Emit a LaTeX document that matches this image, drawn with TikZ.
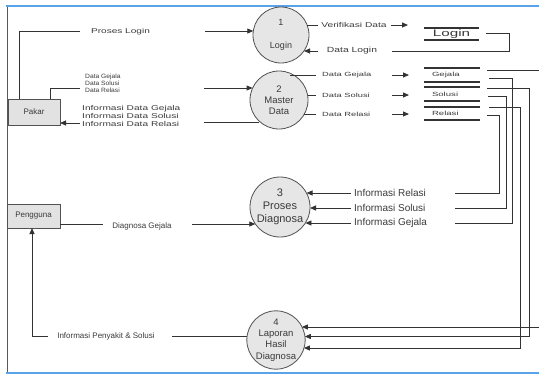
\documentclass[tikz,border=0pt]{standalone}
\usepackage{fontspec}
\setmainfont{Liberation Sans}
\usepackage{graphicx}
\usetikzlibrary{arrows.meta}
\definecolor{ln}{HTML}{333333}
\definecolor{tx}{HTML}{3A3A3A}
\definecolor{cfill}{HTML}{E6E6E6}
\definecolor{bfill}{HTML}{E2E2E2}
\definecolor{frameblue}{HTML}{5BA3E8}
\newcommand{\fs}[2]{\fontsize{#1}{#2}\selectfont}
\newcommand{\hsx}[2]{\scalebox{#1}[1]{#2}}
\begin{document}
\begin{tikzpicture}[x=1pt,y=-1pt,
  proc/.style={circle, draw=ln!85, fill=cfill, line width=0.8pt, inner sep=0pt, outer sep=0pt, align=center, text=tx},
  ent/.style={rectangle, draw=ln!85, fill=bfill, line width=1pt, inner sep=0pt, outer sep=0pt, text=tx},
  lbl/.style={text=tx, inner sep=0pt},
  flow/.style={draw=ln, line width=0.8pt},
  arr/.style={flow, -{Triangle[length=6pt,width=5pt]}},
  sline/.style={draw=ln, line width=1.3pt},
  storebox/.style={inner sep=0pt, outer sep=0pt, text=tx}]
\useasboundingbox (0,0) rectangle (539,375);
% frame
\draw[gray!70!black, line width=1pt] (7,6) -- (7,373);
\draw[frameblue, line width=1.2pt] (6,6) -- (539,6);
\draw[frameblue, line width=1.2pt] (6,373) -- (539,373);

% processes
\node[proc, minimum size=56pt, font=\fs{9}{11}] (c1) at (281,35) {1\\[12pt]Login};
\node[proc, minimum size=58pt, font=\fs{9.5}{11}] (c2) at (279,100) {2\\Master\\Data};
\node[proc, minimum size=60pt, font=\fs{11}{13}] (c3) at (280,207) {3\\Proses\\Diagnosa};
\node[proc, minimum size=58pt, font=\fs{9.5}{11.3}] (c4) at (276,340) {4\\Laporan\\Hasil\\Diagnosa};

% entities
\node[ent, minimum width=52pt, minimum height=26pt, font=\fs{8}{9}] (pakar) at (34,112) {Pakar};
\node[ent, minimum width=53pt, minimum height=24pt, font=\fs{8}{9}] (peng) at (33.5,216) {Pengguna};

% data stores
\node[storebox, minimum width=55pt, minimum height=12pt, font=\fs{9.5}{10}] (sLogin) at (451.5,34) {\hsx{1.6}{Login}};
\node[storebox, minimum width=56pt, minimum height=14pt, text width=40pt, align=left, inner xsep=8pt, font=\fs{6}{7}] (sGej) at (452,75) {\hsx{1.6}{Gejala}};
\node[storebox, minimum width=56pt, minimum height=14pt, text width=40pt, align=left, inner xsep=8pt, font=\fs{6}{7}] (sSol) at (452,94) {\hsx{1.6}{Solusi}};
\node[storebox, minimum width=56pt, minimum height=13pt, text width=40pt, align=left, inner xsep=8pt, font=\fs{6}{7}] (sRel) at (452,113.5) {\hsx{1.6}{Relasi}};
\foreach \s in {sLogin,sGej,sSol,sRel}{
  \draw[sline] (\s.north west) -- (\s.north east) (\s.south west) -- (\s.south east);
}

% Pakar -> Login
\draw[flow] (19,99) |- (80,31);
\node[lbl, font=\fs{7}{8}] (tPL) at (120.5,32) {\hsx{1.44}{Proses Login}};
\draw[arr] (205,31) -- (253.3,31);

% Pakar -> Master Data
\draw[flow] (50,99) |- (80,88);
\node[lbl, font=\fs{6.2}{7}, anchor=west] (tD1) at (85,77) {\hsx{1.08}{Data Gejala}};
\node[lbl, font=\fs{6.2}{7}, anchor=west] (tD2) at (85,83.5) {\hsx{1.08}{Data Solusi}};
\node[lbl, font=\fs{6.2}{7}, anchor=west] (tD3) at (85,90) {\hsx{1.08}{Data Relasi}};
\draw[arr] (204,88) -- (252.6,88);

% Master Data -> Pakar
\draw[flow] (259,122) -- (204,122);
\node[lbl, font=\fs{7}{8}, anchor=west] (tI1) at (82,108.5) {\hsx{1.45}{Informasi Data Gejala}};
\node[lbl, font=\fs{7}{8}, anchor=west] (tI2) at (82,116) {\hsx{1.45}{Informasi Data Solusi}};
\node[lbl, font=\fs{7}{8}, anchor=west] (tI3) at (82,123.5) {\hsx{1.45}{Informasi Data Relasi}};
\draw[arr] (80,123) -- (pakar.east |- 0,123);

% Login <-> store
\draw[flow] (307.2,25) -- (318,25);
\node[lbl, font=\fs{7}{8}] (tVD) at (354,25) {\hsx{1.46}{Verifikasi Data}};
\draw[arr] (391,25) -- (408,25);
\draw[flow] (486,33) -| (509,51) -- (392,51);
\node[lbl, font=\fs{7.5}{8}] (tDL) at (352,51) {\hsx{1.38}{Data Login}};
\draw[arr] (318,51) -- (304,51);

% Master Data -> stores
\draw[flow] (290,75) -- (316,75);
\node[lbl, font=\fs{6}{7}, anchor=west] (tG) at (322,75) {\hsx{1.55}{Data Gejala}};
\draw[arr] (392,75) -- (409,75);
\draw[flow] (307.6,95) -- (316,95);
\node[lbl, font=\fs{6}{7}, anchor=west] (tS) at (322,95) {\hsx{1.55}{Data Solusi}};
\draw[arr] (392,95) -- (409,95);
\draw[flow] (304.4,114) -- (316,114);
\node[lbl, font=\fs{6}{7}, anchor=west] (tR) at (322,114) {\hsx{1.55}{Data Relasi}};
\draw[arr] (392,114) -- (409,114);

% stores -> processes 3 and 4
\draw[flow] (487,70) -- (540,70);
\draw[flow] (489,78) -| (512,223) -- (455,223);
\draw[arr] (487,88) -| (529,336.5) -- (304.8,336.5);
\draw[flow] (488,96) -| (506,208) -- (455,208);
\draw[arr] (489,107) -| (520,348) -- (303.9,348);
\draw[flow] (487,115) -| (499,193) -- (455,193);
\draw[arr] (540,327) -- (301.9,327);

% informasi -> Proses Diagnosa
\node[lbl, font=\fs{10}{11}, anchor=west] (tIR) at (354,193) {Informasi Relasi};
\node[lbl, font=\fs{10}{11}, anchor=west] (tIS) at (354,208) {Informasi Solusi};
\node[lbl, font=\fs{10}{11}, anchor=west] (tIG) at (354,223) {Informasi Gejala};
\draw[arr] (351,193) -- (306.5,193);
\draw[arr] (351,208) -- (310,208);
\draw[arr] (351,223) -- (305.4,223);

% Pengguna -> Proses Diagnosa
\draw[flow] (peng.east |- 0,224) -- (103,224);
\node[lbl, font=\fs{8}{9}] (tDG) at (142,226) {Diagnosa Gejala};
\draw[arr] (192,224) -- (255.3,224);

% Laporan -> Pengguna
\draw[flow] (247.3,336) -- (172,336);
\node[lbl, font=\fs{8}{9}] (tIP) at (106,336) {Informasi Penyakit \& Solusi};
\draw[arr] (48,336) -| (peng.south -| 32,0);
\end{tikzpicture}
\end{document}
